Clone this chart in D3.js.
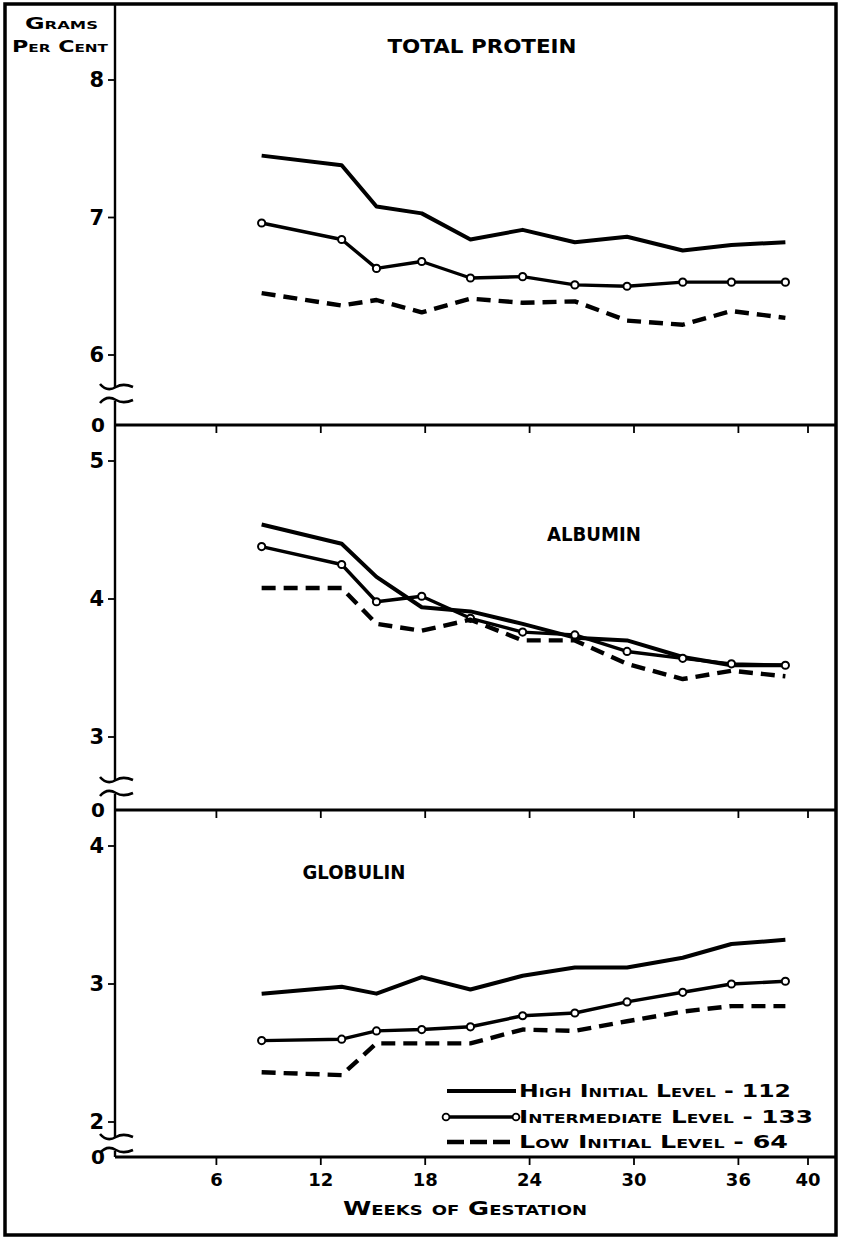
<!DOCTYPE html>
<html><head><meta charset="utf-8">
<script src="https://cdn.jsdelivr.net/npm/d3@7"></script>
<style>body{margin:0;background:#fff}svg{display:block}</style>
</head><body>
<script>
// ---- data ----
const weeks = [8.6, 13.2, 15.2, 17.8, 20.6, 23.6, 26.6, 29.6, 32.8, 35.6, 38.7];
const xTicks = [6, 12, 18, 24, 30, 36, 40];
const seriesNames = ["High Initial Level - 112", "Intermediate Level - 133", "Low Initial Level - 64"];
const panelTitles = ["Total Protein", "Albumin", "Globulin"];
const totalHigh = [7.45, 7.38, 7.08, 7.03, 6.84, 6.91, 6.82, 6.86, 6.76, 6.80, 6.82];
const totalMid  = [6.96, 6.84, 6.63, 6.68, 6.56, 6.57, 6.51, 6.50, 6.53, 6.53, 6.53];
const totalLow  = [6.45, 6.36, 6.40, 6.31, 6.41, 6.38, 6.39, 6.25, 6.22, 6.32, 6.27];
const albHigh = [4.54, 4.40, 4.16, 3.94, 3.91, 3.82, 3.72, 3.70, 3.58, 3.52, 3.52];
const albMid  = [4.38, 4.25, 3.98, 4.02, 3.86, 3.76, 3.74, 3.62, 3.57, 3.53, 3.52];
const albLow  = [4.08, 4.08, 3.82, 3.77, 3.85, 3.70, 3.70, 3.53, 3.42, 3.48, 3.44];
const gloHigh = [2.93, 2.98, 2.93, 3.05, 2.96, 3.06, 3.12, 3.12, 3.19, 3.29, 3.32];
const gloMid  = [2.59, 2.60, 2.66, 2.67, 2.69, 2.77, 2.79, 2.87, 2.94, 3.00, 3.02];
const gloLow  = [2.36, 2.34, 2.57, 2.57, 2.57, 2.67, 2.66, 2.73, 2.80, 2.84, 2.84];
const totalTicks = [6, 7, 8];
const albTicks = [3, 4, 5];
const gloTicks = [2, 3, 4];

// ---- layout ----
const W = 841, H = 1239;
const axisX = 115, rightX = 836;
const svg = d3.select("body").append("svg").attr("width", W).attr("height", H);
const FONT = "'DejaVu Sans', sans-serif";

const x = d3.scaleLinear().domain([0, 40]).range([112, 808]);

const panels = [
  {title: panelTitles[0], ticks: totalTicks, series: [totalHigh, totalMid, totalLow],
   y: d3.scaleLinear().domain([6, 8]).range([355, 80]), base: 425, top: 5, brk: 387,
   titleX: 482, titleY: 53, titleW: 189},
  {title: panelTitles[1], ticks: albTicks, series: [albHigh, albMid, albLow],
   y: d3.scaleLinear().domain([3, 5]).range([737, 461]), base: 810, top: 425, brk: 780,
   titleX: 594, titleY: 541, titleW: 94},
  {title: panelTitles[2], ticks: gloTicks, series: [gloHigh, gloMid, gloLow],
   y: d3.scaleLinear().domain([2, 4]).range([1122, 846]), base: 1157, top: 810, brk: 1137,
   titleX: 354, titleY: 879, titleW: 103}
];

// outer frame
svg.append("rect").attr("x", 5).attr("y", 4).attr("width", rightX - 5).attr("height", 1231)
  .attr("fill", "none").attr("stroke", "#000").attr("stroke-width", 3.5);

// unit label
const ul = svg.append("g").attr("font-family", FONT).attr("font-weight", "bold")
  .attr("font-size", 16).style("font-variant", "small-caps");
ul.append("text").attr("x", 25).attr("y", 29).attr("textLength", 73)
  .attr("lengthAdjust", "spacingAndGlyphs").text("Grams");
ul.append("text").attr("x", 12).attr("y", 52).attr("textLength", 96)
  .attr("lengthAdjust", "spacingAndGlyphs").text("Per Cent");

const styles = [
  {w: 4.0, dash: null, markers: false},
  {w: 3.4, dash: null, markers: true},
  {w: 4.4, dash: "14,8", markers: false}
];

function wave(g, cx, cy, up) {
  const s = up ? -1 : 1;
  g.append("path")
    .attr("d", `M${cx-15},${cy - 3*s} C${cx-10},${cy + 3*s} ${cx-4},${cy + 3*s} ${cx+1},${cy} S${cx+11},${cy - 3*s} ${cx+18},${cy}`)
    .attr("fill", "none").attr("stroke", "#000").attr("stroke-width", 2.6);
}

panels.forEach(p => {
  const g = svg.append("g");
  // axis segments with break
  g.append("line").attr("x1", axisX).attr("x2", axisX).attr("y1", p.top).attr("y2", p.brk)
    .attr("stroke", "#000").attr("stroke-width", 2.4);
  g.append("line").attr("x1", axisX).attr("x2", axisX).attr("y1", p.brk + 14).attr("y2", p.base)
    .attr("stroke", "#000").attr("stroke-width", 2.4);
  wave(g, axisX, p.brk, false);
  wave(g, axisX, p.brk + 13, true);
  // baseline
  g.append("line").attr("x1", axisX).attr("x2", rightX).attr("y1", p.base).attr("y2", p.base)
    .attr("stroke", "#000").attr("stroke-width", 3);
  // x ticks on baseline
  g.selectAll(".xt").data(xTicks).join("line")
    .attr("x1", d => x(d)).attr("x2", d => x(d)).attr("y1", p.base).attr("y2", p.base + 8)
    .attr("stroke", "#000").attr("stroke-width", 1.8);
  // "0" label
  g.append("text").attr("x", 98).attr("y", p.base + 7).attr("text-anchor", "middle")
    .attr("font-family", FONT).attr("font-weight", "bold").attr("font-size", 20).text("0");
  // y ticks
  g.selectAll(".yt").data(p.ticks).join("line")
    .attr("x1", axisX - 7).attr("x2", axisX).attr("y1", d => p.y(d)).attr("y2", d => p.y(d))
    .attr("stroke", "#000").attr("stroke-width", 1.8);
  g.selectAll(".yl").data(p.ticks).join("text")
    .attr("x", 104).attr("y", d => p.y(d) + 7).attr("text-anchor", "end")
    .attr("font-family", FONT).attr("font-weight", "bold").attr("font-size", 21).text(d => d);
  // title
  g.append("text").attr("x", p.titleX - p.titleW / 2).attr("y", p.titleY)
    .attr("font-family", FONT).attr("font-weight", "bold").attr("font-size", 19)
    .attr("textLength", p.titleW).attr("lengthAdjust", "spacingAndGlyphs")
    .text(p.title.toUpperCase());
  // series
  p.series.forEach((vals, i) => {
    const st = styles[i];
    const line = d3.line().x((d, j) => x(weeks[j])).y(d => p.y(d));
    g.append("path").datum(vals).attr("d", line).attr("fill", "none").attr("stroke", "#000")
      .attr("stroke-width", st.w).attr("stroke-linejoin", "round").attr("stroke-dasharray", st.dash);
    if (st.markers) {
      g.selectAll(".m" + i).data(vals).join("circle")
        .attr("cx", (d, j) => x(weeks[j])).attr("cy", d => p.y(d)).attr("r", 3.6)
        .attr("fill", "#fff").attr("stroke", "#000").attr("stroke-width", 2);
    }
  });
});

// x tick labels
svg.selectAll(".xl").data(xTicks).join("text")
  .attr("x", d => x(d)).attr("y", 1186).attr("text-anchor", "middle")
  .attr("font-family", FONT).attr("font-weight", "bold").attr("font-size", 18).text(d => d);

// x axis title
svg.append("text").attr("x", 343).attr("y", 1215).attr("textLength", 244)
  .attr("lengthAdjust", "spacingAndGlyphs")
  .attr("font-family", FONT).attr("font-weight", "bold").attr("font-size", 20)
  .style("font-variant", "small-caps").text("Weeks of Gestation");

// legend
const leg = svg.append("g");
const legY = [1091, 1117, 1142];
const legW = [272, 294, 269];
seriesNames.forEach((name, i) => {
  const st = styles[i];
  leg.append("line").attr("x1", 447).attr("x2", 516).attr("y1", legY[i]).attr("y2", legY[i])
    .attr("stroke", "#000").attr("stroke-width", st.w).attr("stroke-dasharray", st.dash ? "17,6" : null);
  if (st.markers) {
    [446, 516].forEach(cx => leg.append("circle").attr("cx", cx).attr("cy", legY[i]).attr("r", 3.4)
      .attr("fill", "#fff").attr("stroke", "#000").attr("stroke-width", 1.8));
  }
  leg.append("text").attr("x", 519).attr("y", legY[i] + 6)
    .attr("font-family", FONT).attr("font-weight", "bold").attr("font-size", 17.5)
    .attr("textLength", legW[i]).attr("lengthAdjust", "spacingAndGlyphs")
    .style("font-variant", "small-caps").text(name);
});
</script>
</body></html>
